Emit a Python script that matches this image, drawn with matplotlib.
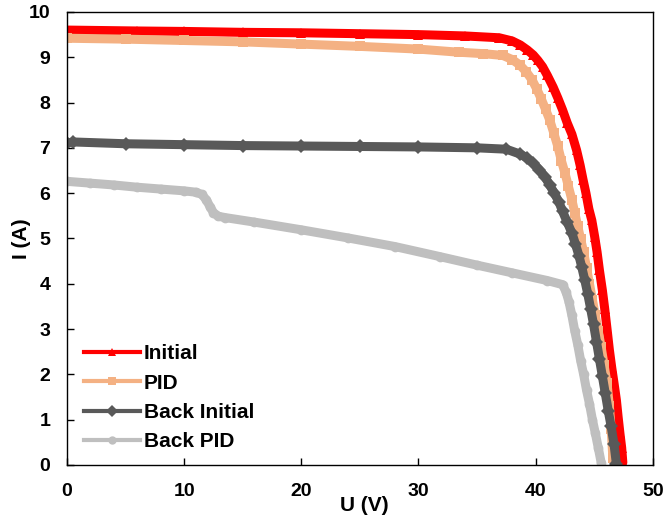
import matplotlib.pyplot as plt
from matplotlib.lines import Line2D

plt.rcParams['font.family'] = ['Liberation Sans', 'DejaVu Sans']
plt.rcParams['font.weight'] = 'bold'

labels = ["Initial", "PID", "Back Initial", "Back PID"]
colors = ["#FF0000", "#F4B183", "#595959", "#BFBFBF"]
markers = ["^", "s", "D", "o"]

u_initial = [0, 3, 6, 10, 15, 20, 25, 30, 34, 36.9, 38.0, 38.7, 39.3, 39.8, 40.2, 40.6, 41.0,
             41.5, 41.9, 42.3, 42.7, 43.1, 43.5, 43.8, 44.05, 44.3, 44.55, 44.8, 45.05, 45.25,
             45.45, 45.7, 45.9, 46.1, 46.3, 46.5, 46.7, 46.9, 47.05, 47.2, 47.35, 47.45]
i_initial = [9.60, 9.59, 9.58, 9.57, 9.55, 9.54, 9.52, 9.50, 9.47, 9.43, 9.36, 9.27, 9.16, 9.05,
             8.93, 8.79, 8.60, 8.34, 8.10, 7.84, 7.55, 7.30, 6.95, 6.62, 6.30, 6.00, 5.65, 5.40,
             5.03, 4.70, 4.30, 3.86, 3.45, 3.00, 2.54, 2.15, 1.80, 1.43, 1.05, 0.70, 0.38, 0.05]

u_pid = [0, 5, 10, 15, 20, 25, 30, 33.5, 35.5, 37.2, 38.0, 38.65, 39.2, 39.7, 40.1, 40.5, 40.85,
         41.2, 41.55, 41.9, 42.2, 42.5, 42.8, 43.1, 43.35, 43.6, 43.85, 44.1, 44.35, 44.6, 44.85,
         45.1, 45.35, 45.6, 45.85, 46.1, 46.3, 46.45, 46.6]
i_pid = [9.42, 9.40, 9.37, 9.34, 9.29, 9.24, 9.18, 9.11, 9.08, 9.04, 8.95, 8.83, 8.68, 8.50, 8.30,
         8.07, 7.85, 7.62, 7.33, 7.03, 6.72, 6.45, 6.15, 5.85, 5.56, 5.27, 4.98, 4.70, 4.35, 4.00,
         3.65, 3.30, 2.95, 2.60, 2.20, 1.80, 1.30, 0.80, 0.15]

u_back_initial = [0, 0.5, 5, 10, 15, 20, 25, 30, 35, 37.5, 38.7, 39.3, 39.8, 40.3, 40.8, 41.2,
                  41.6, 42.0, 42.3, 42.7, 43.1, 43.4, 43.7, 43.95, 44.2, 44.45, 44.7, 44.95, 45.2,
                  45.45, 45.7, 45.95, 46.2, 46.45, 46.7, 46.9]
i_back_initial = [7.10, 7.13, 7.09, 7.07, 7.05, 7.04, 7.03, 7.02, 7.00, 6.97, 6.86, 6.77, 6.66,
                  6.52, 6.36, 6.18, 6.00, 5.80, 5.60, 5.36, 5.12, 4.88, 4.62, 4.36, 4.08, 3.78,
                  3.45, 3.10, 2.72, 2.34, 1.96, 1.58, 1.20, 0.85, 0.45, 0.02]

u_back_pid = [0, 2, 4, 6, 8, 10, 11.0, 11.5, 11.9, 12.2, 12.5, 12.9, 13.5, 16, 20, 24, 28, 31.8,
              35, 38, 41, 42.3, 42.6, 42.85, 43.1, 43.35, 43.6, 43.85, 44.1, 44.35, 44.6, 44.85,
              45.1, 45.35, 45.6]
i_back_pid = [6.26, 6.22, 6.18, 6.13, 6.09, 6.05, 6.02, 5.97, 5.85, 5.70, 5.57, 5.49, 5.46, 5.36,
              5.19, 5.01, 4.82, 4.60, 4.41, 4.24, 4.07, 3.98, 3.82, 3.60, 3.30, 2.95, 2.65, 2.30,
              2.00, 1.65, 1.35, 1.00, 0.70, 0.38, 0.05]

series = [(u_initial, i_initial), (u_pid, i_pid),
          (u_back_initial, i_back_initial), (u_back_pid, i_back_pid)]

fig = plt.figure(figsize=(6.64, 5.2), dpi=100)
ax = fig.add_axes([0.101, 0.106, 0.882, 0.871])

handles = []
for (u, i), lab, c, m in zip(series, labels, colors, markers):
    # thick band, like the dense measured points of the original
    ax.plot(u, i, color=c, lw=6.5, solid_capstyle='round', solid_joinstyle='round')
    ax.plot(u, i, color=c, lw=0, marker=m, markersize=7, markeredgewidth=0)
    handles.append(Line2D([], [], color=c, lw=3, marker=m, markersize=6, markeredgewidth=0))

ax.set_xlim(0, 50)
ax.set_ylim(0, 10)
ax.set_xticks(range(0, 51, 10))
ax.set_yticks(range(0, 11, 1))
ax.tick_params(direction='in', length=5, width=1, labelsize=14)
ax.tick_params(axis='y', pad=12)
ax.tick_params(axis='x', pad=13)
for s in ax.spines.values():
    s.set_linewidth(1)

ax.set_xlabel("U (V)", fontsize=15, fontweight='bold')
ax.set_ylabel("I (A)", fontsize=15, fontweight='bold')
ax.xaxis.set_label_coords(0.508, -0.068)
ax.yaxis.set_label_coords(-0.062, 0.5)

ax.legend(handles, labels, loc='lower left', bbox_to_anchor=(0.005, 0.0), frameon=False,
          handlelength=2.7, handletextpad=0.2, labelspacing=0.5,
          borderaxespad=0.25, prop={'weight': 'bold', 'size': 15})

fig.savefig("out.png", dpi=100)
